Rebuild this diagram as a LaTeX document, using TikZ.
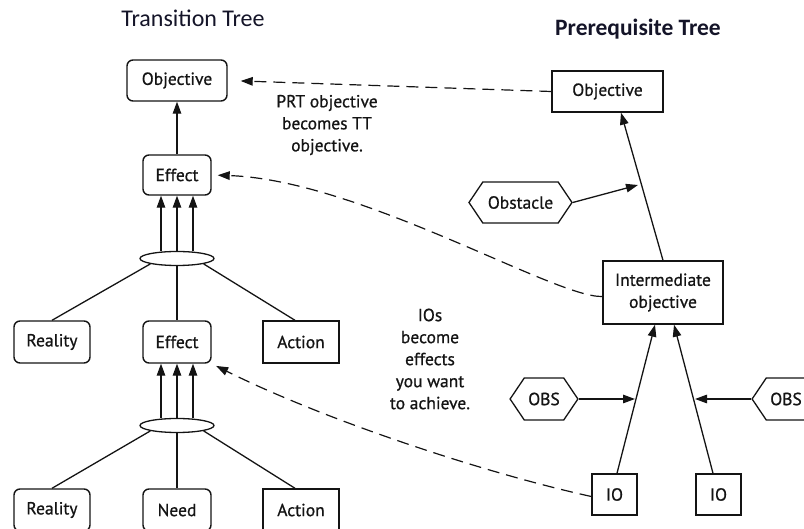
\documentclass[tikz,border=0pt]{standalone}
\usepackage{fontspec}
\setmainfont{PT Sans}[FakeBold=0.8]
\newfontfamily\titlefont{Carlito}
\usetikzlibrary{shapes.geometric,shapes.symbols,arrows.meta}

\definecolor{ink}{RGB}{20,20,20}
\definecolor{titleink}{RGB}{20,20,40}

\tikzset{
  lbl/.style={font=\fontsize{17.5}{22}\selectfont, text=ink},
  rbox/.style={lbl, draw=ink, line width=1.4pt, rounded corners=6pt, inner sep=0pt, align=center},
  sbox/.style={lbl, draw=ink, line width=1.4pt, inner sep=0pt, align=center},
  hexbox/.style={lbl, draw=ink, line width=1.3pt, signal, signal to=east and west,
    signal pointer angle=112, inner sep=0pt, inner xsep=4pt},
  joint/.style={draw=ink, line width=1.3pt, ellipse, inner sep=0pt, minimum width=74pt, minimum height=14pt},
  link/.style={draw=ink, line width=1.3pt},
  arr/.style={link, -{Triangle[length=12pt,width=8.5pt]}},
  dasharr/.style={draw=ink, line width=1.2pt, dash pattern=on 12pt off 7pt, -{Triangle[length=12pt,width=8.5pt]}},
  note/.style={lbl, align=center},
  title/.style={font=\titlefont\fontsize{24}{26}\selectfont, text=titleink}
}

\begin{document}
\begin{tikzpicture}[x=1pt, y=-1pt]
  \useasboundingbox (0,0) rectangle (804,529);

  % headings
  \node[title] (ttl) at (193,18) {Transition Tree};
  \node[title, font=\titlefont\bfseries\fontsize{23.5}{26}\selectfont] (ptl) at (638,29) {Prerequisite Tree};

  % transition tree
  \node[rbox, minimum width=100pt, minimum height=41pt] (tobj) at (177,80.5) {Objective};
  \node[rbox, minimum width=68pt, minimum height=40pt] (eff1) at (177,175) {Effect};
  \node[joint] (j1) at (177,258.5) {};
  \node[rbox, minimum width=76pt, minimum height=42pt] (real1) at (52,342) {Reality};
  \node[rbox, minimum width=68pt, minimum height=42pt] (eff2) at (177,342) {Effect};
  \node[sbox, minimum width=76pt, minimum height=42pt] (act1) at (301,342) {Action};
  \node[joint] (j2) at (177,425.5) {};
  \node[rbox, minimum width=76pt, minimum height=42pt] (real2) at (52,510) {Reality};
  \node[rbox, minimum width=68pt, minimum height=42pt] (need) at (177,510) {Need};
  \node[sbox, minimum width=76pt, minimum height=42pt] (act2) at (301,510) {Action};

  \draw[arr] (eff1) -- (tobj);
  \foreach \dx in {-16,0,16} {
    \draw[arr] ([xshift=\dx pt]j1.north) -- ([xshift=\dx pt]eff1.south);
    \draw[arr] ([xshift=\dx pt]j2.north) -- ([xshift=\dx pt]eff2.south);
  }
  \draw[link] (j1.south west) -- (real1.north);
  \draw[link] (j1.south) -- (eff2.north);
  \draw[link] (j1.south east) -- ([xshift=-6pt]act1.north);
  \draw[link] (j2.south west) -- (real2.north);
  \draw[link] (j2.south) -- (need.north);
  \draw[link] (j2.south east) -- ([xshift=-6pt]act2.north);

  % prerequisite tree
  \node[sbox, minimum width=111pt, minimum height=41pt] (pobj) at (607.5,91.5) {Objective};
  \node[hexbox, minimum width=103pt, minimum height=41pt] (obst) at (520.5,202.5) {Obstacle};
  \node[sbox, minimum width=120pt, minimum height=63pt] (inter) at (663,292.5) {Intermediate\\objective};
  \node[hexbox, minimum width=60pt, minimum height=42pt] (obs1) at (544,399) {OBS};
  \node[hexbox, minimum width=60pt, minimum height=42pt] (obs2) at (786,399) {OBS};
  \node[sbox, minimum width=45pt, minimum height=41pt] (io1) at (614.5,494.5) {IO};
  \node[sbox, minimum width=45pt, minimum height=41pt] (io2) at (718.5,494.5) {IO};

  \coordinate (hitA) at (638,185);
  \coordinate (hitB) at (635,399);
  \coordinate (hitC) at (695,399);

  \draw[arr] (inter.north) -- ([xshift=13.5pt]pobj.south);
  \draw[arr] (obst.east) -- (hitA);
  \draw[arr] ([xshift=2.5pt]io1.north) -- ([xshift=-8pt]inter.south);
  \draw[arr] ([xshift=-5.5pt]io2.north) -- ([xshift=11pt]inter.south);
  \draw[arr] (obs1.east) -- (hitB);
  \draw[arr] (obs2.west) -- (hitC);

  % links between the two trees
  \draw[dasharr, shorten >=13pt] (pobj.west) -- (tobj.east);
  \draw[dasharr, shorten >=6pt] ([yshift=-4pt]inter.west) .. controls (555,298) and (360,180) .. (eff1.east);
  \draw[dasharr, shorten >=5pt] ([yshift=-2pt]io1.west) .. controls (480,472) and (320,418) .. (eff2.south east);

  \node[note] (n1) at (327,125) {PRT objective\\becomes TT\\objective.};
  \node[note] (n2) at (430,359) {IOs\\become\\effects\\you want\\to achieve.};
\end{tikzpicture}
\end{document}
